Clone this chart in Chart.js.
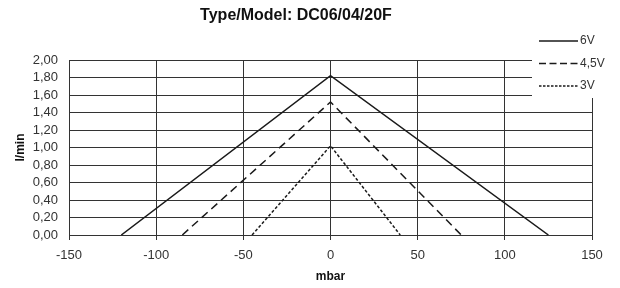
<!DOCTYPE html>
<html>
<head>
<meta charset="utf-8">
<script src="https://cdn.jsdelivr.net/npm/chart.js@4/dist/chart.umd.min.js"></script>
<style>
  html, body { margin: 0; padding: 0; background: #fff; }
  #wrap { width: 620px; height: 288px; position: relative; }
</style>
</head>
<body>
<div id="wrap"><canvas id="chart" width="620" height="288"></canvas></div>
<script>
// pressure (mbar) vs flow (l/min)
const series6V = [{ x: -120, y: 0 }, { x: 0, y: 1.82 }, { x: 125, y: 0 }];
const series45V = [{ x: -85, y: 0 }, { x: 0, y: 1.52 }, { x: 75, y: 0 }];
const series3V = [{ x: -45, y: 0 }, { x: 0, y: 1.02 }, { x: 40, y: 0 }];
const seriesLabels = ['6V', '4,5V', '3V'];
const lineColor = '#1a1a1a';
const gridColor = '#333';
const fontFamily = '"Liberation Sans", Arial, sans-serif';

// legend sits over the top right corner of the plot, with a white box behind it
const boxLegend = {
    id: 'boxLegend',
    afterDraw(chart) {
        const ctx = chart.ctx;
        ctx.save();
        ctx.fillStyle = '#fff';
        ctx.fillRect(532, 0, chart.width - 532, 98);
        const legendDash = [[], [7, 3.5], [2.5, 1.5]];
        chart.data.datasets.forEach((ds, i) => {
            const y = 41 + i * 22.5;
            ctx.beginPath();
            ctx.strokeStyle = lineColor;
            ctx.lineWidth = 1.5;
            ctx.setLineDash(legendDash[i]);
            ctx.moveTo(539, y);
            ctx.lineTo(578, y);
            ctx.stroke();
            ctx.setLineDash([]);
            ctx.fillStyle = '#333';
            ctx.font = '12px ' + fontFamily;
            ctx.textBaseline = 'middle';
            ctx.fillText(ds.label, 580, y);
        });
        ctx.restore();
    }
};

new Chart(document.getElementById('chart'), {
    type: 'line',
    data: {
        datasets: [
            { label: seriesLabels[0], data: series6V, borderDash: [] },
            { label: seriesLabels[1], data: series45V, borderDash: [8, 5] },
            { label: seriesLabels[2], data: series3V, borderDash: [3, 2] }
        ].map(ds => ({ ...ds, borderColor: lineColor, borderWidth: 1.5, pointRadius: 0, fill: false, tension: 0 }))
    },
    options: {
        responsive: false,
        animation: false,
        layout: { padding: { left: 0, right: 28, top: 0, bottom: 0 } },
        plugins: {
            legend: { display: false },
            tooltip: { enabled: false },
            title: {
                display: true,
                text: 'Type/Model: DC06/04/20F',
                color: '#111',
                font: { family: fontFamily, size: 16, weight: 'bold' },
                padding: { top: 6, bottom: 34.8 }
            }
        },
        scales: {
            x: {
                type: 'linear',
                min: -150,
                max: 150,
                ticks: { stepSize: 50, autoSkip: false, maxRotation: 0, color: '#333', padding: 8, font: { family: fontFamily, size: 13 } },
                grid: { color: gridColor, tickLength: 5, lineWidth: 1 },
                border: { color: gridColor },
                title: {
                    display: true,
                    text: 'mbar',
                    color: '#111',
                    font: { family: fontFamily, size: 12, weight: 'bold' },
                    padding: { top: 1, bottom: 4 }
                },
                afterFit(scale) { scale.height = 53; }
            },
            y: {
                min: 0,
                max: 2,
                ticks: {
                    stepSize: 0.2,
                    autoSkip: false,
                    color: '#333',
                    padding: 11,
                    font: { family: fontFamily, size: 13 },
                    callback: v => v.toFixed(2).replace('.', ',')
                },
                grid: { color: gridColor, drawTicks: false, lineWidth: 1 },
                border: { color: gridColor },
                title: {
                    display: true,
                    text: 'l/min',
                    color: '#111',
                    font: { family: fontFamily, size: 12, weight: 'bold' },
                    padding: { top: 13, bottom: 0 }
                },
                afterFit(scale) { scale.width = 69; }
            }
        }
    },
    plugins: [boxLegend]
});
</script>
</body>
</html>
